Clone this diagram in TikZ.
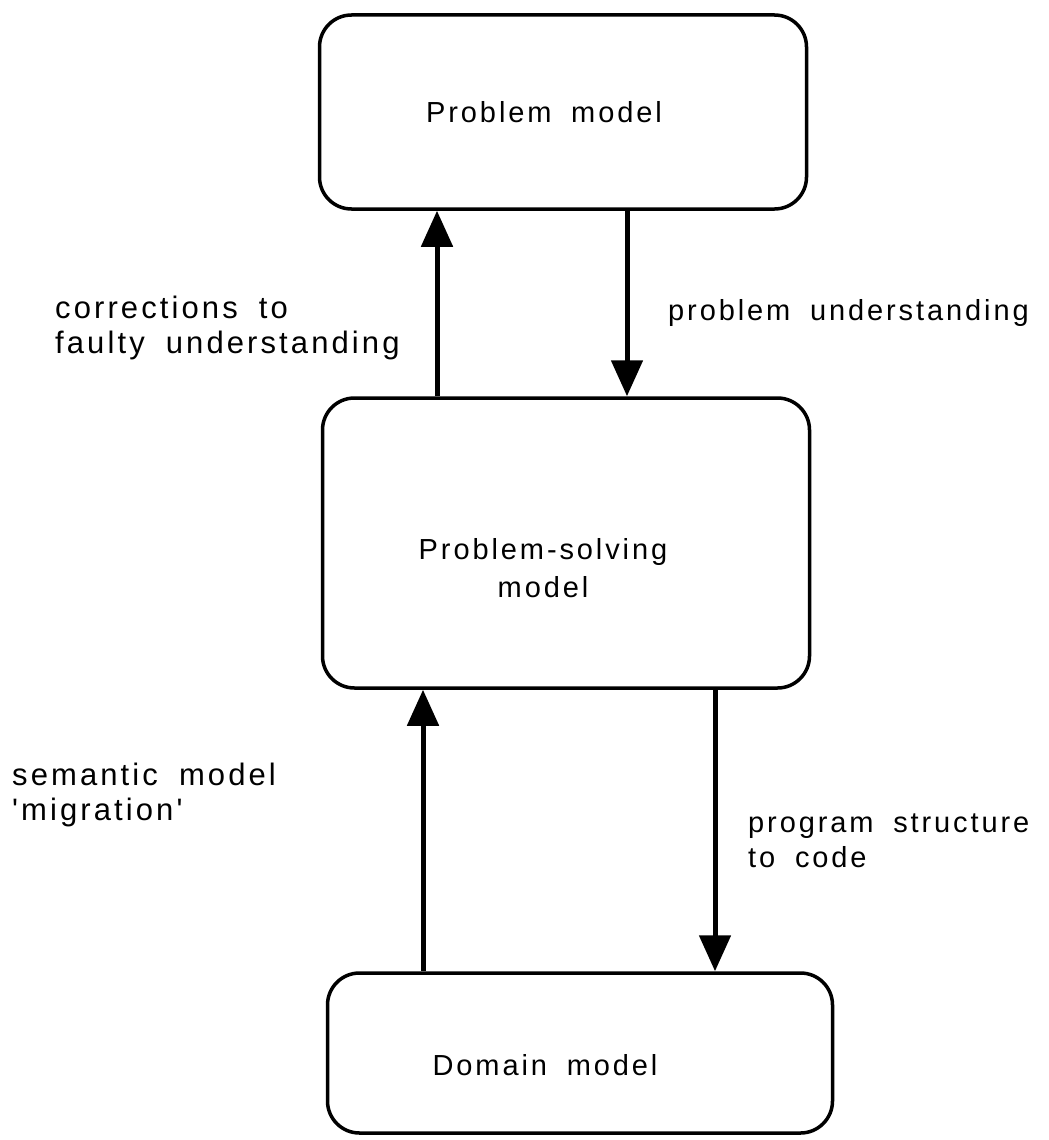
\documentclass[tikz,border=0pt]{standalone}
\usepackage{fontspec}
\newfontfamily\lblfont[Ligatures=TeXOff,LetterSpace=10,WordSpace=1.8]{Liberation Sans}
\usetikzlibrary{arrows.meta,positioning}

\tikzset{
  box/.style={draw, line width=3.5pt, rounded corners=32pt, minimum width=487pt},
  flow/.style={line width=5pt, -{Triangle[length=36pt,width=31pt]}},
  lbl/.style={font=\lblfont\fontsize{29}{35}\selectfont, align=left, anchor=west, inner sep=0pt},
  lblwide/.style={lbl, font=\lblfont\fontsize{31}{35}\selectfont},
  boxtext/.style={font=\lblfont\fontsize{29}{38}\selectfont, align=center}
}

\begin{document}
\begin{tikzpicture}[x=1pt,y=-1pt]
  \useasboundingbox (0,0) rectangle (1049,1140);
  % the three models
  \node[box, minimum height=194pt, label={[boxtext, xshift=-19pt]center:Problem model}] (pm) at (563,112) {};
  \node[box, minimum height=290pt, label={[boxtext, xshift=-23pt, yshift=-25pt]center:Problem-solving\\model}] (psm) at (566,543) {};
  \node[box, minimum width=505pt, minimum height=160pt, label={[boxtext, xshift=-35pt, yshift=-12pt]center:Domain model}] (dm) at (580,1053) {};
  % where the arrows run
  \coordinate (c1) at (437,0);
  \coordinate (c2) at (627,0);
  \coordinate (c3) at (423,0);
  \coordinate (c4) at (715,0);
  \draw[flow] (psm.north -| c1) -- (pm.south -| c1);
  \draw[flow] (pm.south -| c2) -- (psm.north -| c2);
  \draw[flow] (dm.north -| c3) -- (psm.south -| c3);
  \draw[flow] (psm.south -| c4) -- (dm.north -| c4);
  % labels
  \node[lblwide] (corr) at (55,328) {corrections to\\faulty understanding};
  \node[lbl] (probu) at (668,313) {problem understanding};
  \node[lblwide] (sem) at (12,795) {semantic model\\'migration'};
  \node[lbl] (prog) at (748,841) {program structure\\to code};
\end{tikzpicture}
\end{document}
